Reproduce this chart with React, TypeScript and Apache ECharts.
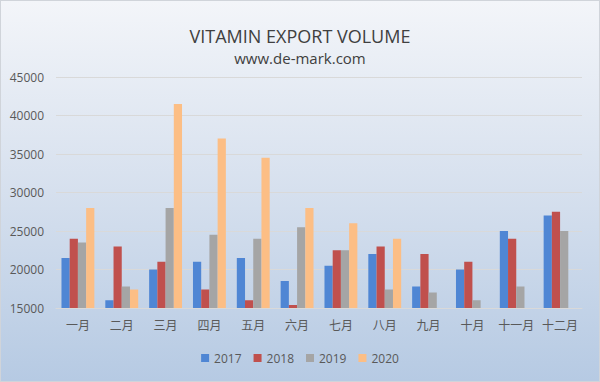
import React, { useEffect, useRef } from "react";
import * as echarts from "echarts";

const months = ["一月", "二月", "三月", "四月", "五月", "六月", "七月", "八月", "九月", "十月", "十一月", "十二月"];
const years = ["2017", "2018", "2019", "2020"];
const v2017 = [21500, 16000, 20000, 21000, 21500, 18500, 20500, 22000, 17800, 20000, 25000, 27000];
const v2018 = [24000, 23000, 21000, 17400, 16000, 15400, 22500, 23000, 22000, 21000, 24000, 27500];
const v2019 = [23500, 17800, 28000, 24500, 24000, 25500, 22500, 17400, 17000, 16000, 17800, 25000];
const v2020: (number | null)[] = [28000, 17400, 41500, 37000, 34500, 28000, 26000, 24000, null, null, null, null];
const colors = ["#4F86D4", "#C0504D", "#A5A5A5", "#FCBE85"];

export default function App() {
  const ref = useRef<HTMLDivElement>(null);
  useEffect(() => {
    const chart = echarts.init(ref.current!, null, { renderer: "svg" });
    const seriesData = [v2017, v2018, v2019, v2020];
    chart.setOption({
      animation: false,
      backgroundColor: new echarts.graphic.LinearGradient(0, 0, 0, 1, [
        { offset: 0, color: "#F3F5F9" },
        { offset: 0.5, color: "#D6E0EE" },
        { offset: 1, color: "#B6CAE3" },
      ]),
      color: colors,
      title: {
        text: "VITAMIN EXPORT VOLUME",
        subtext: "www.de-mark.com",
        left: "center",
        top: 21,
        itemGap: 5,
        textStyle: { fontFamily: "Open Sans", fontSize: 18, fontWeight: "normal", color: "#404040" },
        subtextStyle: { fontFamily: "Open Sans", fontSize: 15, color: "#404040" },
      },
      legend: {
        bottom: 12,
        left: "center",
        itemWidth: 8,
        itemHeight: 8,
        itemGap: 12,
        icon: "rect",
        textStyle: { fontFamily: "Open Sans", fontSize: 12, color: "#595959" },
        data: years,
      },
      grid: { left: 55, right: 17, top: 76, bottom: 73, containLabel: false },
      xAxis: {
        type: "category",
        data: months,
        axisLine: { lineStyle: { color: "#D9D9D9" } },
        axisTick: { show: false },
        axisLabel: { fontFamily: "Noto Sans CJK SC", fontSize: 12, color: "#595959", margin: 10, interval: 0 },
      },
      yAxis: {
        type: "value",
        min: 15000,
        max: 45000,
        interval: 5000,
        axisLine: { show: false },
        axisTick: { show: false },
        splitLine: { lineStyle: { color: "#D9D9D9" } },
        axisLabel: {
          fontFamily: "Open Sans",
          fontSize: 12,
          color: "#595959",
          margin: 12,
          formatter: (v: number) => String(v),
        },
      },
      series: years.map((y, i) => ({
        name: y,
        type: "bar",
        data: seriesData[i],
        barGap: "0%",
        barCategoryGap: "25%",
      })),
    });
    return () => chart.dispose();
  }, []);
  return (
    <div
      ref={ref}
      style={{ width: 600, height: 382, position: "absolute", left: 0, top: 0, boxSizing: "border-box", border: "1px solid #D0D4DA" }}
    />
  );
}
